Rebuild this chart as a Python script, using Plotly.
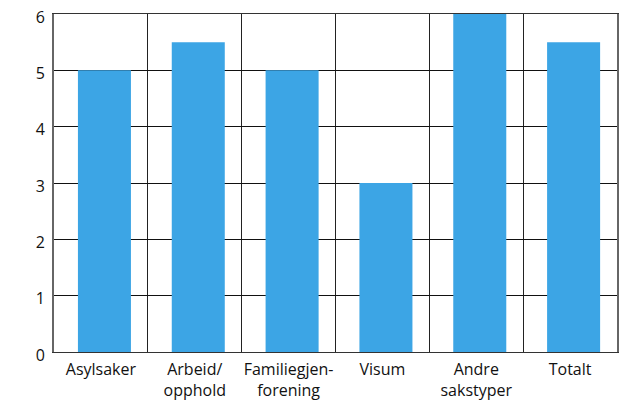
import plotly.graph_objects as go

categories = ["Asylsaker", "Arbeid/<br>opphold", "Familiegjen-<br>forening", "Visum", "Andre<br>sakstyper", "Totalt"]
values = [5, 5.5, 5, 3, 6, 5.5]
y_ticks = [0, 1, 2, 3, 4, 5, 6]

fig = go.Figure(go.Bar(x=categories, y=values, marker=dict(color="#3CA5E5", line=dict(width=0)),
                       width=0.565, offset=-0.245))

fig.update_layout(
    width=642, height=401,
    margin=dict(l=54, r=25, t=14, b=49, autoexpand=False),
    paper_bgcolor="white", plot_bgcolor="white",
    font=dict(family="Open Sans, sans-serif", size=16, color="#111"),
    showlegend=False,
)
fig.update_xaxes(
    tickson="boundaries", showgrid=True, gridcolor="#222", gridwidth=1,
    showline=True, linecolor="#333", linewidth=1, mirror=True,
    ticks="", ticklen=0, automargin=False, ticklabelstandoff=3, tickangle=0,
)
fig.update_yaxes(
    range=[0, 6], tickvals=y_ticks, showgrid=True, gridcolor="#111", gridwidth=1,
    showline=True, linecolor="#666", linewidth=2, mirror=True,
    ticks="", zeroline=False, ticklabelstandoff=4, automargin=False, ticklabelshift=3,
)
fig.write_html("out.html")
